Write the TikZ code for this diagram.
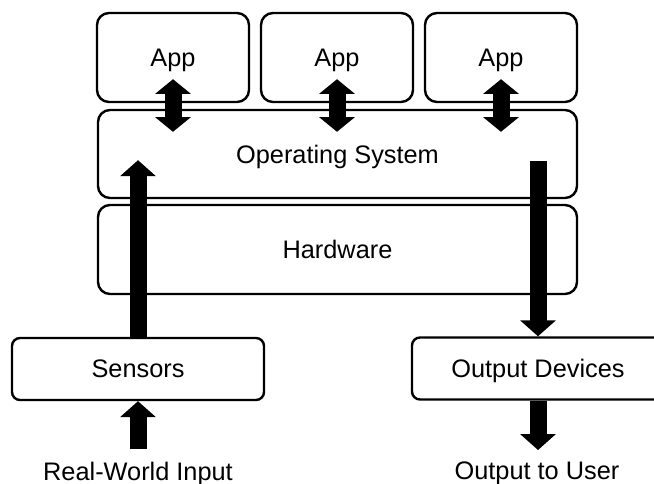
\documentclass[tikz,border=0pt]{standalone}
\usepackage{fontspec}
\setmainfont{Liberation Sans}
\usepackage{tikz}
\usetikzlibrary{arrows.meta}

\begin{document}
\begin{tikzpicture}[x = 0.75pt, y = -0.75pt,
    layer/.style = {draw, line width = 1.8pt, rounded corners = 9pt, fill = white,
                    inner sep = 0pt, text depth = 0pt, font = \fontsize{19}{23}\selectfont},
    label/.style = {inner sep = 0pt, anchor = north, font = \fontsize{19}{23}\selectfont},
    blk/.style = {line width = 12.75pt, -{Triangle[width = 26.25pt, length = 12pt]}},
    dbl/.style = {line width = 12.75pt,
                  {Triangle[width = 26.25pt, length = 11pt]}-{Triangle[width = 26.25pt, length = 11pt]}}]
        \clip (0,0) rectangle (654,483);
        \useasboundingbox (0,0) rectangle (654,483);
        \node[layer, minimum width = 114pt, minimum height = 66.75pt] (app1) at (173,57.5) {App};
        \node[layer, minimum width = 114pt, minimum height = 66.75pt] (app2) at (337,57.5) {App};
        \node[layer, minimum width = 114pt, minimum height = 66.75pt] (app3) at (501,57.5) {App};
        \node[layer, minimum width = 359.25pt, minimum height = 66pt] (os) at (337.5,154) {Operating System};
        \node[layer, minimum width = 359.25pt, minimum height = 66.75pt] (hw) at (337.5,249.5) {Hardware};
        \node[layer, minimum width = 189pt, minimum height = 46.5pt, rounded corners = 6pt] (sens) at (138,369) {Sensors};
        \node[layer, minimum width = 189pt, minimum height = 46.5pt, rounded corners = 6pt] (outdev) at (538,368.5) {Output Devices};
        \node[label] (input) at (138,462) {Real-World Input};
        \node[label] (user) at (537,462) {Output to User};
        \draw[dbl] ([yshift = 18pt]app1.south) -- ([yshift = -17.25pt]os.north -| app1.south);
        \draw[dbl] ([yshift = 18pt]app2.south) -- ([yshift = -17.25pt]os.north -| app2.south);
        \draw[dbl] ([yshift = 18pt]app3.south) -- ([yshift = -17.25pt]os.north -| app3.south);
        \draw[blk] (sens.north) -- ([yshift = 29.25pt]os.south -| sens.north);
        \draw[blk] ([yshift = 28.5pt]os.south -| outdev.north) -- (outdev.north);
        \draw[blk] ([yshift = 9.75pt]input.north) -- (sens.south);
        \draw[blk] (outdev.south) -- ([yshift = 9pt]user.north -| outdev.south);
      \end{tikzpicture}
\end{document}
